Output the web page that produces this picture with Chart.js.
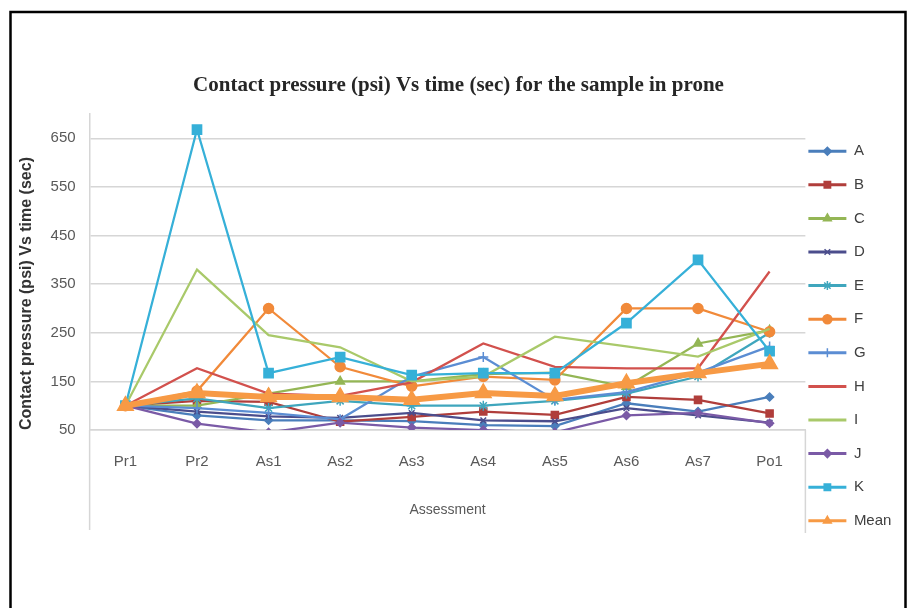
<!DOCTYPE html>
<html>
<head>
<meta charset="utf-8">
<script src="https://cdn.jsdelivr.net/npm/chart.js@4.4.1/dist/chart.umd.min.js"></script>
<style>
  html, body { margin: 0; padding: 0; background: #fff; }
  #wrap { width: 907px; height: 608px; }
</style>
</head>
<body>
<div id="wrap"><canvas id="chart" width="907" height="608"></canvas></div>
<script>
// categories (assessment points)
const categories = ["Pr1", "Pr2", "As1", "As2", "As3", "As4", "As5", "As6", "As7", "Po1"];
// y axis ticks
const yTicks = [50, 150, 250, 350, 450, 550, 650];

// series values
const seriesA = [100, 80, 70, 70, 68, 60, 58, 105, 88, 118];
const seriesB = [100, 110, 108, 67, 77, 88, 81, 118, 112, 84];
const seriesC = [100, 100, 125, 150, 150, 165, 168, 139, 228, 255];
const seriesD = [100, 88, 78, 75, 85, 70, 68, 95, 80, 65];
const seriesE = [100, 115, 95, 110, 100, 100, 110, 125, 160, 250];
const seriesF = [100, 130, 300, 180, 140, 160, 153, 300, 300, 252];
const seriesG = [100, 95, 85, 72, 160, 200, 112, 128, 168, 222];
const seriesH = [100, 177, 125, 120, 148, 228, 180, 177, 177, 376];
const seriesI = [100, 380, 245, 220, 150, 160, 242, 222, 201, 258];
const seriesJ = [100, 63, 45, 65, 55, 50, 45, 80, 85, 64];
const seriesK = [100, 668, 167, 200, 163, 167, 167, 270, 400, 212];
const seriesMean = [100, 126, 118, 118, 112, 126, 120, 146, 167, 186];

const seriesNames = ["A", "B", "C", "D", "E", "F", "G", "H", "I", "J", "K", "Mean"];
const seriesValues = [seriesA, seriesB, seriesC, seriesD, seriesE, seriesF, seriesG, seriesH, seriesI, seriesJ, seriesK, seriesMean];
const seriesColors = ["#4a7ebb", "#b03e3b", "#94b655", "#4b4d8c", "#3fa6bd", "#f18a3a",
                      "#5b8dd3", "#d2514d", "#a9c96a", "#7a5aa6", "#36b0d8", "#f79a45"];
const seriesMarkers = ["rectRot", "rect", "triangle", "crossRot", "star", "circle",
                       "cross", false, false, "rectRot", "rect", "triangle"];
const markerSizes = [4, 5, 5, 4, 5, 5, 5, 0, 0, 4, 6.5, 9];

let datasets = [];
seriesNames.forEach((name, i) => {
    const isMean = name === "Mean";
    datasets.push({
        label: name,
        data: seriesValues[i],
        borderColor: seriesColors[i],
        backgroundColor: seriesColors[i],
        borderWidth: isMean ? 6 : 2.25,
        pointStyle: seriesMarkers[i],
        pointRadius: markerSizes[i],
        pointBorderWidth: 1.5,
        pointHoverRadius: markerSizes[i],
        tension: 0,
        order: seriesNames.length - i // later series drawn on top
    });
});

const gridGray = "#d6d6d6";
const textGray = "#595959";
const legendFont = 15;

// extra bits of the Excel frame, the outer border and legend markers
const decoPlugin = {
    id: "deco",
    afterLayout(chart) {
        // pull the legend items close to the plot edge
        const lg = chart.legend;
        const shift = lg.left + lg.options.labels.padding - (chart.chartArea.right + 3);
        lg.left -= shift;
        lg.right -= shift;
    },
    beforeDraw(chart) {
        const ctx = chart.ctx;
        ctx.save();
        ctx.fillStyle = "#fff";
        ctx.fillRect(0, 0, chart.width, chart.height);
        ctx.restore();
    },
    afterDraw(chart) {
        const ctx = chart.ctx;
        const area = chart.chartArea;
        ctx.save();
        ctx.strokeStyle = gridGray;
        ctx.lineWidth = 1.5;
        ctx.beginPath();
        ctx.moveTo(area.left, area.bottom);
        ctx.lineTo(area.left, 530);
        ctx.moveTo(area.right, area.bottom);
        ctx.lineTo(area.right, 533);
        ctx.stroke();

        // markers on the legend lines
        const legend = chart.legend;
        const boxW = legend.options.labels.boxWidth;
        legend.legendHitBoxes.forEach((hb, i) => {
            const ds = chart.data.datasets[i];
            if (!ds.pointStyle) return;
            const cx = hb.left + boxW / 2;
            const cy = hb.top + legendFont / 2;
            ctx.fillStyle = ds.backgroundColor;
            ctx.strokeStyle = ds.borderColor;
            ctx.lineWidth = 1.5;
            Chart.helpers.drawPoint(ctx, {
                pointStyle: ds.pointStyle,
                radius: Math.min(ds.pointRadius, 4.5),
                rotation: 0,
                borderWidth: 1.5
            }, cx, cy);
        });

        // outer black frame
        ctx.strokeStyle = "#000";
        ctx.lineWidth = 2.5;
        ctx.strokeRect(10.5, 12, 895, 620);
        ctx.restore();
    }
};

new Chart("chart", {
    type: "line",
    data: { labels: categories, datasets: datasets },
    options: {
        responsive: false,
        animation: false,
        layout: { padding: { top: 64, left: 0, right: -10, bottom: 0 } },
        plugins: {
            title: {
                display: true,
                text: "Contact pressure (psi) Vs time (sec) for the sample in prone",
                color: "#262626",
                font: { family: "Liberation Serif", size: 21, weight: "bold" },
                padding: { top: 9.4, bottom: 15.4 }
            },
            legend: {
                position: "right",
                labels: {
                    boxWidth: 38,
                    boxHeight: 3,
                    padding: 18.6,
                    color: "#404040",
                    font: { family: "Liberation Sans", size: legendFont },
                    generateLabels(chart) {
                        return Chart.defaults.plugins.legend.labels.generateLabels(chart).map(l => {
                            l.lineWidth = 0;
                            return l;
                        });
                    },
                    sort: (a, b) => a.datasetIndex - b.datasetIndex
                }
            },
            tooltip: { enabled: false }
        },
        scales: {
            x: {
                offset: true,
                grid: { display: false, drawTicks: false },
                border: { display: true, color: gridGray, width: 1.5 },
                ticks: {
                    color: textGray,
                    padding: 23,
                    font: { family: "Liberation Sans", size: 15 }
                },
                title: {
                    display: true,
                    text: "Assessment",
                    color: textGray,
                    font: { family: "Liberation Sans", size: 14 },
                    padding: { top: 7.6, bottom: 89.6 }
                }
            },
            y: {
                min: 50,
                max: 700,
                afterBuildTicks(scale) {
                    scale.ticks = yTicks.map(v => ({ value: v }));
                },
                grid: { color: gridGray, lineWidth: 1.5, drawTicks: false },
                border: { display: true, color: gridGray, width: 1.5 },
                ticks: {
                    color: textGray,
                    padding: 14,
                    font: { family: "Liberation Sans", size: 15 }
                },
                title: {
                    display: true,
                    align: "start",
                    text: "Contact pressure (psi) Vs time (sec)",
                    color: "#333333",
                    font: { family: "Liberation Sans", size: 16, weight: "bold" },
                    padding: { top: 16.8, bottom: 0.6 }
                }
            }
        }
    },
    plugins: [decoPlugin]
});
</script>
</body>
</html>
